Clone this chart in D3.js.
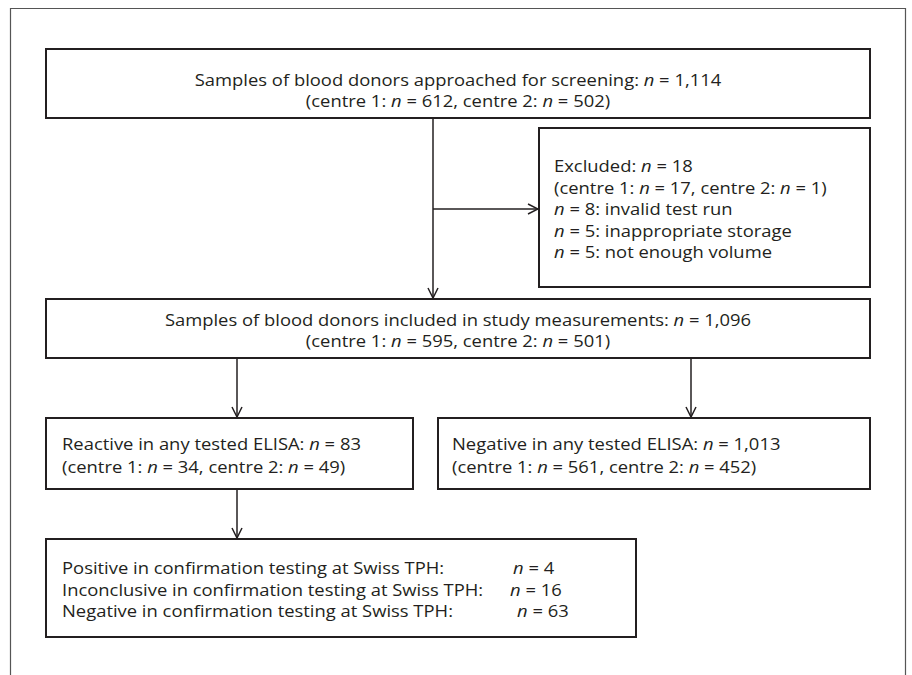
<!DOCTYPE html>
<html>
<head>
<meta charset="utf-8">
<script src="https://cdn.jsdelivr.net/npm/d3@7"></script>
<style>
  body { margin: 0; background: #fff; }
  svg text { font-family: "Open Sans", "Noto Sans", sans-serif; font-size: 16px; fill: #231f20; }
  .box { fill: #fff; stroke: #231f20; stroke-width: 2; }
  .link { stroke: #231f20; stroke-width: 1.5; fill: none; }
</style>
</head>
<body>
<div id="chart"></div>
<script>
// flow chart content, *n* marks italic
let screenedText = ["Samples of blood donors approached for screening: *n* = 1,114",
                    "(centre 1: *n* = 612, centre 2: *n* = 502)"];
let excludedText = ["Excluded: *n* = 18",
                    "(centre 1: *n* = 17, centre 2: *n* = 1)",
                    "*n* = 8: invalid test run",
                    "*n* = 5: inappropriate storage",
                    "*n* = 5: not enough volume"];
let includedText = ["Samples of blood donors included in study measurements: *n* = 1,096",
                    "(centre 1: *n* = 595, centre 2: *n* = 501)"];
let reactiveText = ["Reactive in any tested ELISA: *n* = 83",
                    "(centre 1: *n* = 34, centre 2: *n* = 49)"];
let negativeText = ["Negative in any tested ELISA: *n* = 1,013",
                    "(centre 1: *n* = 561, centre 2: *n* = 452)"];
let confirmLabels = ["Positive in confirmation testing at Swiss TPH:",
                     "Inconclusive in confirmation testing at Swiss TPH:",
                     "Negative in confirmation testing at Swiss TPH:"];
let confirmCounts = ["*n* = 4", "*n* = 16", "*n* = 63"];

const width = 912, height = 675;
// the source figure is stretched sideways a little
const stretch = 1.15;

const svg = d3.select("#chart").append("svg")
    .attr("width", width)
    .attr("height", height);

// outer frame (open at the bottom)
svg.append("path")
    .attr("d", "M10.5,675 V8.5 H905.5 V675")
    .style("fill", "none")
    .style("stroke", "#555")
    .style("stroke-width", 1.2);

const defs = svg.append("defs");
defs.append("marker")
    .attr("id", "arrow")
    .attr("viewBox", "0 0 12 12")
    .attr("refX", 11)
    .attr("refY", 6)
    .attr("markerWidth", 12)
    .attr("markerHeight", 12)
    .attr("markerUnits", "userSpaceOnUse")
    .attr("orient", "auto")
    .append("path")
    .attr("d", "M1,1 L11,6 L1,11")
    .style("fill", "none")
    .style("stroke", "#231f20")
    .style("stroke-width", 1.5);

// write one line at (x,y), splitting on *...* for italics
function writeLine(x, y, line, anchor) {
    const t = svg.append("text")
        .attr("transform", `translate(${x},${y}) scale(${stretch},1)`)
        .attr("text-anchor", anchor || "start");
    line.split("*").forEach(function(part, i) {
        if (part === "") return;
        t.append("tspan")
            .style("font-style", i % 2 ? "italic" : "normal")
            .text(part);
    });
    return t;
}

function drawBox(b, lines, opts) {
    svg.append("rect")
        .attr("class", "box")
        .attr("x", b.x0).attr("y", b.y0)
        .attr("width", b.x1 - b.x0)
        .attr("height", b.y1 - b.y0);
    lines.forEach(function(line, i) {
        writeLine(opts.center ? (b.x0 + b.x1) / 2 : b.x0 + opts.pad,
                  opts.y + i * opts.dy,
                  line,
                  opts.center ? "middle" : "start");
    });
}

const boxScreened = {x0: 46, y0: 49, x1: 870, y1: 118};
const boxExcluded = {x0: 539, y0: 128, x1: 870, y1: 287};
const boxIncluded = {x0: 46, y0: 299, x1: 870, y1: 358};
const boxReactive = {x0: 46, y0: 418, x1: 413, y1: 489};
const boxNegative = {x0: 438, y0: 418, x1: 870, y1: 489};
const boxConfirm  = {x0: 46, y0: 539, x1: 636, y1: 637};

// arrows first so boxes sit over their ends
const links = [
    [[433, boxScreened.y1], [433, boxIncluded.y0 - 1]],
    [[433, 209], [boxExcluded.x0 - 1, 209]],
    [[237, boxIncluded.y1], [237, boxReactive.y0 - 1]],
    [[691, boxIncluded.y1], [691, boxNegative.y0 - 1]],
    [[237, boxReactive.y1], [237, boxConfirm.y0 - 1]]
];
svg.selectAll("path.link")
    .data(links).enter()
    .append("path")
    .attr("class", "link")
    .attr("d", d3.line())
    .attr("marker-end", "url(#arrow)");

drawBox(boxScreened, screenedText, {center: true, y: 86, dy: 21});
drawBox(boxExcluded, excludedText, {pad: 15, y: 172, dy: 21.5});
drawBox(boxIncluded, includedText, {center: true, y: 326, dy: 21});
drawBox(boxReactive, reactiveText, {pad: 16, y: 450, dy: 23});
drawBox(boxNegative, negativeText, {pad: 14, y: 450, dy: 23});
drawBox(boxConfirm, confirmLabels, {pad: 16, y: 574, dy: 21.5});

// counts sit in a ragged column, as in the source
const countX = [513, 510, 517];
confirmCounts.forEach(function(c, i) {
    writeLine(countX[i], 574 + i * 21.5, c);
});
</script>
</body>
</html>
